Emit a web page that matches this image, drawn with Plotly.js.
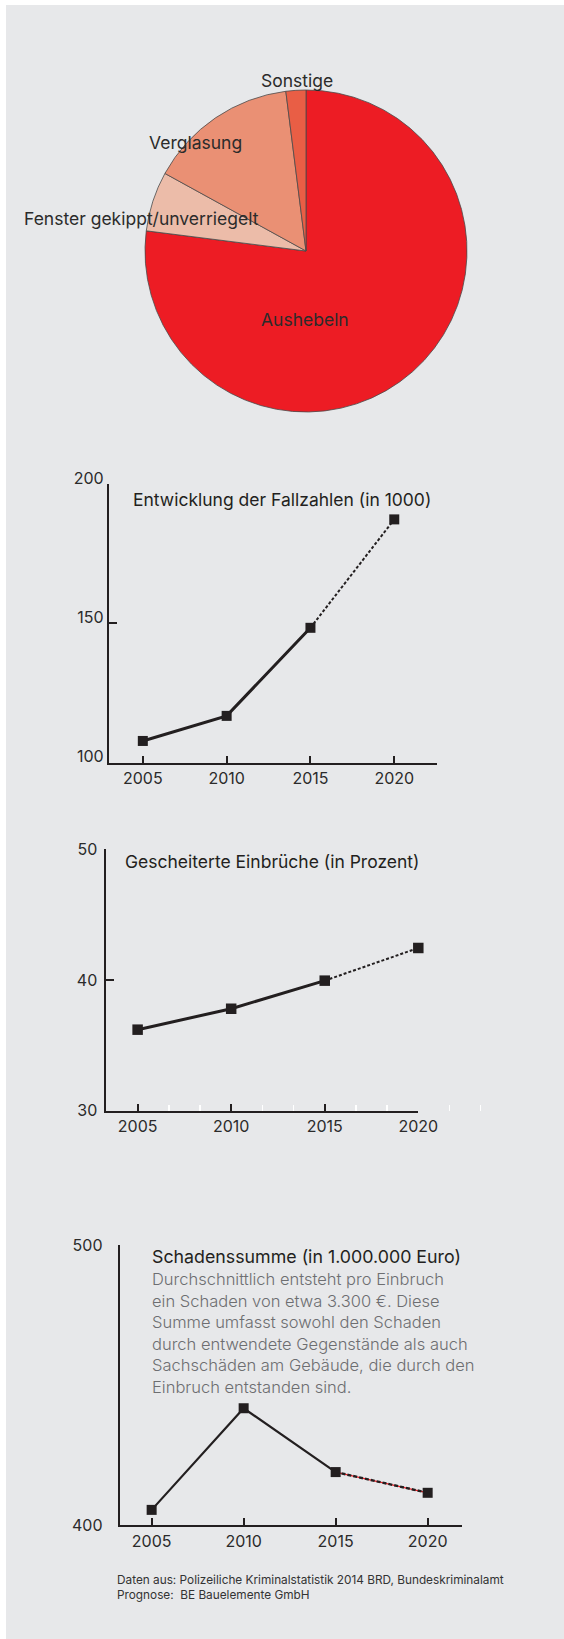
<!DOCTYPE html>
<html><head><meta charset="utf-8">
<script src="https://cdn.plot.ly/plotly-3.0.1.min.js"></script>
<style>
html,body{margin:0;padding:0;background:#fff;width:564px;height:1639px;overflow:hidden}
#bg{position:absolute;left:6px;top:5px;width:558px;height:1634px;background:#e7e8ea}
#chart{position:absolute;left:0;top:0;width:564px;height:1639px}
</style></head><body>
<div id="bg"></div><div id="chart"></div>
<script>
// ---- data ----
const pieLabels = ['Aushebeln', 'Fenster gekippt/unverriegelt', 'Verglasung', 'Sonstige'];
const pieValues = [77, 6, 15, 2];
const pieColors = ['#ed1c24', '#ecbca9', '#ea9074', '#e95e45'];

const years = [2005, 2010, 2015, 2020];
const yearLabels = ['2005', '2010', '2015', '2020'];
const fallzahlen = [107.8, 116.8, 148.4, 187.3];
const gescheitert = [36.2, 37.8, 39.95, 42.45];
const schaden = [405.4, 441.7, 418.9, 411.5];
const whiteTickYears = [2006.67, 2008.33, 2011.67, 2013.33, 2016.67, 2018.33, 2021.67, 2023.33];

const title1 = 'Entwicklung der Fallzahlen (in 1000)';
const title2 = 'Gescheiterte Einbrüche (in Prozent)';
const title3 = 'Schadenssumme (in 1.000.000 Euro)';
const noteLines = [
  'Durchschnittlich entsteht pro Einbruch',
  'ein Schaden von etwa 3.300 €. Diese',
  'Summe umfasst sowohl den Schaden',
  'durch entwendete Gegenstände als auch',
  'Sachschäden am Gebäude, die durch den',
  'Einbruch entstanden sind.'
];
const sourceLines = [
  'Daten aus: Polizeiliche Kriminalstatistik 2014 BRD, Bundeskriminalamt',
  'Prognose:\u00a0 BE Bauelemente GmbH'
];

// ---- helpers ----
const W = 564, H = 1639;
const px = x => x / W;
const py = y => 1 - y / H;
const INK = '#231f20';
const FONT = "Inter, 'Liberation Sans', Arial, sans-serif";

function lineTraces(xa, ya, vals, wSolid, wDash, dash, markerSize, redUnder) {
  const t = [];
  t.push({x: years.slice(0, 3), y: vals.slice(0, 3), xaxis: xa, yaxis: ya, mode: 'lines', cliponaxis: false,
          line: {color: INK, width: wSolid}, hoverinfo: 'skip', showlegend: false});
  if (redUnder) {
    t.push({x: years.slice(2), y: vals.slice(2), xaxis: xa, yaxis: ya, mode: 'lines', cliponaxis: false,
            line: {color: '#ed1c24', width: 1.2}, hoverinfo: 'skip', showlegend: false});
  }
  t.push({x: years.slice(2), y: vals.slice(2), xaxis: xa, yaxis: ya, mode: 'lines', cliponaxis: false,
          line: {color: INK, width: wDash, dash: dash}, hoverinfo: 'skip', showlegend: false});
  t.push({x: years, y: vals, xaxis: xa, yaxis: ya, mode: 'markers', cliponaxis: false,
          marker: {symbol: 'square', size: markerSize, color: INK}, hoverinfo: 'skip', showlegend: false});
  return t;
}

const traces = [
  {type: 'pie', labels: pieLabels, values: pieValues, sort: false, direction: 'clockwise', rotation: 0,
   marker: {colors: pieColors, line: {color: '#4a4a4a', width: 0.8}}, textinfo: 'none', hoverinfo: 'skip',
   showlegend: false, domain: {x: [px(306 - 161), px(306 + 161)], y: [py(251 + 161), py(251 - 161)]}},
  ...lineTraces('x', 'y', fallzahlen, 3, 2, '3px,2px', 10, false),
  ...lineTraces('x2', 'y2', gescheitert, 3, 2, '3px,2px', 10.5, false),
  ...lineTraces('x3', 'y3', schaden, 2.2, 2.4, '4px,2px', 10, true),
  {x: whiteTickYears, y: [null], xaxis: 'x4', yaxis: 'y2', mode: 'markers', hoverinfo: 'skip', showlegend: false}
];

const tickFont = {family: FONT, size: 16, color: '#2b2b2b'};
function xax(d, range, anchor) {
  return {domain: d, range: range, anchor: anchor, showline: true, linecolor: INK, linewidth: 2.5,
          ticks: 'inside', ticklen: 7, tickwidth: 2, tickcolor: INK, tickvals: years, ticktext: yearLabels,
          tickfont: tickFont, showgrid: false, zeroline: false, fixedrange: true};
}
function yax(d, range, anchor, tv, shift, standoff) {
  return {domain: d, range: range, anchor: anchor, showline: true, linecolor: INK, linewidth: 2.5,
          ticks: 'inside', ticklen: 8, tickwidth: 2, tickcolor: INK, tickvals: tv,
          ticklabelshift: shift, ticklabelstandoff: standoff,
          tickfont: tickFont, showgrid: false, zeroline: false, fixedrange: true};
}

const ann = [];
function txt(t, x, y, size, color, anchor, weight) {
  ann.push({text: t, x: x, y: y, xref: 'paper', yref: 'paper', showarrow: false,
            xanchor: anchor || 'left', yanchor: 'middle', borderpad: 0,
            font: {family: FONT, size: size, color: color, weight: weight || 'normal'}});
}
txt('Sonstige', px(297), py(80), 17.5, '#2b2b2b', 'center');
txt('Verglasung', px(195), py(142), 17.5, '#2b2b2b', 'center');
txt('Fenster gekippt/unverriegelt', px(141), py(218), 17.5, '#2b2b2b', 'center');
txt('Aushebeln', px(305), py(319), 17.5, '#2b2b2b', 'center');
txt(title1, px(131.7), py(499), 17.5, INK);
txt(title2, px(124), py(861.7), 17.5, INK);
txt(title3, px(150.7), py(1256.7), 17.8, INK);
noteLines.forEach((l, i) => txt(l, px(150.7), py(1279.3 + i * 21.5), 16.5, '#6d6e71', 'left', 300));
sourceLines.forEach((l, i) => txt(l, px(115.7), py(1580 + i * 14.5), 11.8, '#333333'));

const layout = {
  width: W, height: H, margin: {l: 0, r: 0, t: 0, b: 0},
  paper_bgcolor: 'rgba(0,0,0,0)', plot_bgcolor: 'rgba(0,0,0,0)',
  font: {family: FONT},
  xaxis: xax([px(109.3), px(437)], [2003.0, 2022.55], 'y'),
  yaxis: yax([py(762.7), py(484)], [100, 200], 'x', [100, 150, 200], -6, 0),
  xaxis2: xax([px(106), px(418.3)], [2003.31, 2020], 'y2'),
  yaxis2: yax([py(1110.7), py(849.3)], [30, 50], 'x2', [30, 40, 50], 0, 3),
  xaxis3: xax([px(120), px(461.7)], [2003.28, 2021.85], 'y3'),
  yaxis3: yax([py(1525), py(1245)], [400, 500], 'x3', [400, 500], 0, 12),
  xaxis4: {domain: [px(106), px(490)], range: [2003.31, 2003.31 + (490 - 106) / 18.71], anchor: 'y2',
           showline: false, showgrid: false, zeroline: false, ticks: 'inside', ticklen: 6, tickwidth: 1.6,
           tickcolor: '#ffffff', tickvals: whiteTickYears, showticklabels: false, fixedrange: true},
  annotations: ann
};
layout.xaxis3.linewidth = 2.3; layout.yaxis3.linewidth = 2.3;

Plotly.newPlot('chart', traces, layout, {staticPlot: true, displayModeBar: false});
</script>
</body></html>
